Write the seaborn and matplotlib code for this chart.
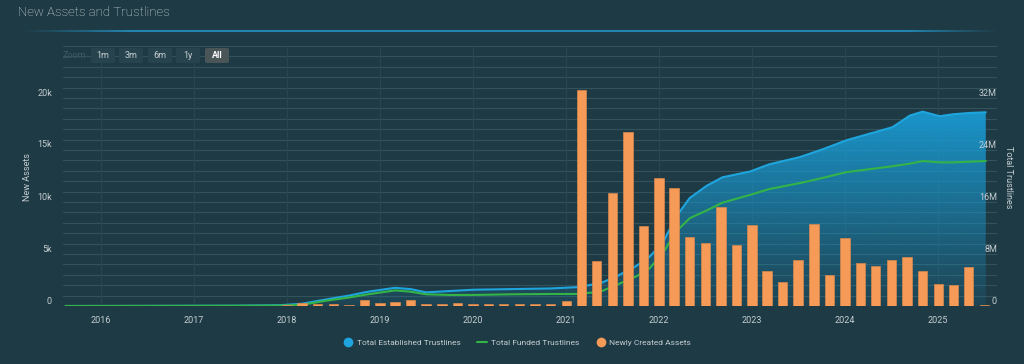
import numpy as np
import pandas as pd
import matplotlib
matplotlib.use("Agg")
import matplotlib.pyplot as plt
import matplotlib.dates as mdates
import matplotlib.transforms as mtransforms
from matplotlib.patches import FancyBboxPatch
from matplotlib.lines import Line2D
from matplotlib.collections import LineCollection
from matplotlib.colors import to_rgb
import seaborn as sns

# -------------------------------
# Data
# -------------------------------
bar_dates = pd.date_range("2018-01-01", "2025-07-01", freq="2MS")
new_assets = [
    50, 300, 150, 150, 70, 580,            # 2018
    300, 350, 580, 220, 220, 300,          # 2019
    220, 150, 150, 220, 150, 220,          # 2020
    500, 20800, 4300, 10900, 16700, 7700,  # 2021
    12300, 11300, 6600, 6100, 9500, 5850,  # 2022
    7800, 3400, 2350, 4400, 7850, 2950,    # 2023
    6500, 4150, 3850, 4400, 4700, 3400,    # 2024
    2150, 2000, 3750, 100,                 # 2025
]

line_dates = pd.to_datetime([
    "2015-08-15", "2016-06-01", "2017-06-01", "2017-12-01", "2018-03-01",
    "2018-06-01", "2018-09-01", "2018-11-15", "2019-03-01", "2019-05-01",
    "2019-07-01", "2019-10-01", "2020-01-01", "2020-06-01", "2020-11-01",
    "2021-02-15", "2021-05-15", "2021-07-15", "2021-10-01", "2021-11-25",
    "2022-01-15", "2022-03-10", "2022-05-01", "2022-07-07", "2022-09-07",
    "2022-12-25", "2023-03-10", "2023-07-07", "2023-10-05", "2024-01-07",
    "2024-03-28", "2024-07-05", "2024-09-12", "2024-11-01", "2025-01-07",
    "2025-03-01", "2025-05-05", "2025-07-07",
])
# millions of trustlines
total_established = [
    0.0, 0.02, 0.05, 0.12, 0.35,
    1.0, 1.6, 2.2, 2.8, 2.6,
    2.1, 2.3, 2.5, 2.6, 2.7,
    2.9, 3.5, 4.5, 6.1, 7.6,
    9.7, 13.8, 16.6, 18.5, 19.8,
    20.7, 21.8, 22.9, 24.1, 25.5,
    26.4, 27.5, 29.3, 29.9, 29.2,
    29.5, 29.7, 29.8,
]
total_funded = [
    0.0, 0.01, 0.03, 0.06, 0.18,
    0.8, 1.3, 1.8, 2.4, 2.2,
    1.8, 1.7, 1.7, 1.8, 1.85,
    1.85, 2.2, 3.2, 4.5, 5.8,
    8.1, 11.5, 13.5, 14.7, 15.9,
    17.1, 18.0, 18.9, 19.7, 20.6,
    21.0, 21.5, 21.9, 22.3, 22.1,
    22.1, 22.2, 22.3,
]

years = list(range(2016, 2026))
left_ticks = [0, 5000, 10000, 15000, 20000]
left_labels = ["0", "5k", "10k", "15k", "20k"]
right_ticks = [0, 8, 16, 24, 32]
right_labels = ["0", "8M", "16M", "24M", "32M"]
legend_labels = ["Total Established Trustlines", "Total Funded Trustlines", "Newly Created Assets"]
zoom_buttons = ["1m", "3m", "6m", "1y", "All"]

# -------------------------------
# Style
# -------------------------------
BG = "#1e3a44"
GRID = "#33525b"
VGRID = "#284650"
TEXT = "#c5ced2"
BLUE = "#1fa5de"
GREEN = "#34b447"
ORANGE = "#f59a57"

sns.set_theme(style="dark", rc={"axes.facecolor": BG, "figure.facecolor": BG})
plt.rcParams["font.family"] = ["Roboto", "DejaVu Sans"]

W, H = 1024, 364
fig = plt.figure(figsize=(W / 100, H / 100), dpi=100, facecolor=BG)
ax = fig.add_axes([63 / W, 1 - 306 / H, (997 - 63) / W, 260 / H])
ax.set_facecolor(BG)
ax2 = ax.twinx()

lx = mdates.date2num(line_dates)
bx = mdates.date2num(bar_dates)
x_lo = mdates.date2num(pd.Timestamp("2015-08-05"))
x_hi = mdates.date2num(pd.Timestamp("2025-08-20"))

# grid
for i in range(26):
    ax.axhline(i * 1.6, color=GRID, lw=0.8, zorder=0)
for y in years:
    ax.axvline(mdates.date2num(pd.Timestamp(f"{y}-01-01")), color=VGRID, lw=0.8, zorder=0)

# area with vertical gradient under the established line
est = np.array(total_established)
poly = ax.fill_between(lx, 0, est, color="none", lw=0)
grad = np.linspace(0, 1, 256).reshape(-1, 1)
rgba = np.zeros((256, 1, 4))
rgba[..., :3] = to_rgb("#1a9ad2")
rgba[..., 3] = 0.10 + 0.85 * grad[..., 0:1]
im = ax.imshow(rgba, extent=[lx[0], lx[-1], 0, est.max()], origin="lower",
               aspect="auto", zorder=1, interpolation="bilinear")
im.set_clip_path(poly.get_paths()[0], transform=ax.transData)

sns.lineplot(x=lx, y=total_established, ax=ax, color=BLUE, lw=1.5, zorder=3)
sns.lineplot(x=lx, y=total_funded, ax=ax, color=GREEN, lw=1.5, zorder=3)

# bars on the twin axis so they sit on top
sns.barplot(x=bx, y=new_assets, native_scale=True, ax=ax2, color=ORANGE,
            saturation=1, width=0.62, errorbar=None,
            edgecolor="#d9884c", linewidth=0.5)

ax.set_xlim(x_lo, x_hi)
ax2.set_xlim(x_lo, x_hi)
ax.set_ylim(0, 40)
ax2.set_ylim(0, 25000)

for a in (ax, ax2):
    for s in a.spines.values():
        s.set_visible(False)
    a.set_ylabel("")
    a.set_xlabel("")
    a.set_yticks([])
    a.grid(False)

ax.set_xticks([mdates.date2num(pd.Timestamp(f"{y}-01-01")) for y in years])
ax.set_xticklabels([str(y) for y in years], color=TEXT, fontsize=6.5)
ax.tick_params(axis="x", length=0, pad=7)

# y tick labels sit just above their grid lines
left_tr = mtransforms.offset_copy(ax2.get_yaxis_transform(), fig=fig, x=-11, y=5, units="dots")
for v, lab in zip(left_ticks, left_labels):
    ax2.text(0, v, lab, transform=left_tr, ha="right", va="center", color=TEXT, fontsize=6.5)
right_tr = mtransforms.offset_copy(ax.get_yaxis_transform(), fig=fig, x=0, y=5, units="dots")
for v, lab in zip(right_ticks, right_labels):
    ax.text(1, v, lab, transform=right_tr, ha="right", va="center", color=TEXT, fontsize=6.5)

fig.text(28 / W, 1 - 177 / H, "New Assets", rotation=90, ha="center", va="center",
         color=TEXT, fontsize=6.5)
fig.text(1008 / W, 1 - 177 / H, "Total Trustlines", rotation=-90, ha="center", va="center",
         color=TEXT, fontsize=6.5)

# title and header line
fig.text(18 / W, 1 - 13 / H, "New Assets and Trustlines", ha="left", va="center",
         color="#d3dadd", fontsize=9.5, fontweight="light")
xs = np.linspace(20, 995, 200)
segs = [[(xs[i] / W, 1 - 31 / H), (xs[i + 1] / W, 1 - 31 / H)] for i in range(len(xs) - 1)]
alph = np.clip(np.minimum((xs[:-1] - 20) / 110, (995 - xs[:-1]) / 90), 0, 1)
cols = [(*to_rgb("#2484b0"), a) for a in alph]
fig.add_artist(LineCollection(segs, colors=cols, linewidths=1.5, transform=fig.transFigure))

# zoom buttons
fig.text(63 / W, 1 - 56 / H, "Zoom", ha="left", va="center", color="#3d5a64", fontsize=6.5)
btn_left = [91, 119, 148, 176, 205]
for bl, lab in zip(btn_left, zoom_buttons):
    active = lab == "All"
    fig.add_artist(FancyBboxPatch((bl / W, 1 - 63 / H), 24 / W, 15 / H,
                                  boxstyle="round,pad=0,rounding_size=0.003",
                                  transform=fig.transFigure,
                                  facecolor="#4a5558" if active else "#27434d",
                                  edgecolor="none"))
    fig.text((bl + 12) / W, 1 - 55.5 / H, lab, ha="center", va="center",
             color="#ffffff" if active else TEXT, fontsize=6.5,
             fontweight="bold" if active else "normal")

# legend
handles = [
    Line2D([], [], marker="o", color="none", markerfacecolor=BLUE, markeredgewidth=0, markersize=7),
    Line2D([], [], color=GREEN, lw=1.5),
    Line2D([], [], marker="o", color="none", markerfacecolor=ORANGE, markeredgewidth=0, markersize=7),
]
fig.legend(handles, legend_labels, loc="center", bbox_to_anchor=(0.505, 1 - 343 / H), ncol=3,
           frameon=False, fontsize=6.0, labelcolor=TEXT, handlelength=1.2,
           columnspacing=2.0, handletextpad=0.4)

fig.savefig("out.png", dpi=100, facecolor=BG)
